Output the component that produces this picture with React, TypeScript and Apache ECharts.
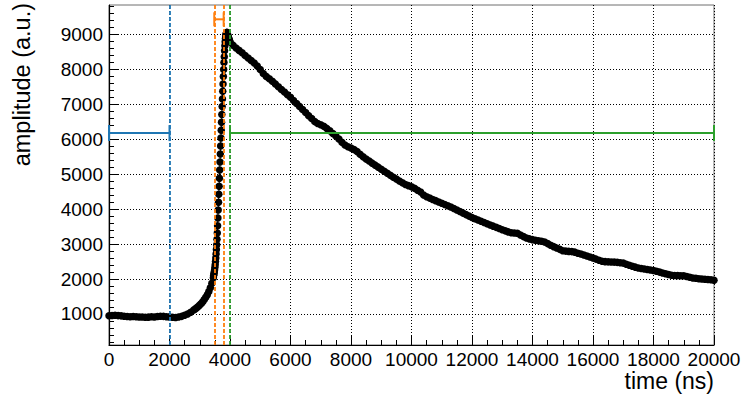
import { useEffect, useRef } from "react";
import * as echarts from "echarts";

// Digitised waveform, stored as uniformly sampled segments (start time, step in ns, amplitudes)
const baselineStart = 0;
const baselineStep = 100;
const baselineValues = [
  950, 955, 960, 952, 945, 935, 926, 920, 924, 918,
  910, 914, 905, 908, 918, 914, 924, 934, 930, 920,
  915, 906, 900, 910, 930, 962, 1000, 1050, 1110,
];

const footStart = 2850;
const footStep = 50;
const footValues = [1140, 1175, 1215, 1255, 1300, 1350, 1410, 1475, 1550, 1640, 1750, 1880, 2040];

const edgeStart = 3460;
const edgeStep = 10;
const edgeValues = [
  2110, 2150, 2200, 2255, 2330, 2410, 2500, 2605, 2720, 2845,
  2980, 3140, 3320, 3525, 3750, 3975, 4200, 4430, 4660, 4890,
  5120, 5350, 5580, 5810, 6040, 6265, 6490, 6715, 6940, 7160,
  7380, 7590, 7800, 8000, 8200, 8370, 8540, 8680, 8800, 8890,
  8960, 9010, 9040, 9060, 9065, 9030, 9000, 8970, 8940, 8910,
  8885, 8860, 8835, 8810,
];

const tailStart = 4000;
const tailStep = 100;
const tailValues = [
  8790, 8700, 8620, 8550, 8480, 8405, 8330, 8260, 8190, 8100,
  8000, 7890, 7805, 7735, 7665, 7590, 7510, 7430, 7355, 7280,
  7205, 7115, 7030, 6945, 6855, 6770, 6680, 6600, 6510, 6455,
  6420, 6375, 6315, 6245, 6170, 6095, 6010, 5920, 5840, 5790,
  5750, 5710, 5650, 5575, 5500, 5435, 5380, 5320, 5262, 5205,
  5145, 5085, 5030, 4970, 4915, 4862, 4810, 4760, 4710, 4675,
  4640, 4600, 4545, 4490, 4405, 4355, 4318, 4280, 4245, 4205,
  4170, 4135, 4100, 4065, 4020, 3975, 3932, 3888, 3845, 3802,
  3762, 3725, 3690, 3655, 3620, 3585, 3550, 3515, 3480, 3445,
  3410, 3380, 3350, 3325, 3318, 3310, 3260, 3215, 3173, 3150,
  3128, 3108, 3095, 3082, 3060, 3015, 2970, 2928, 2890, 2850,
  2812, 2800, 2792, 2785, 2770, 2740, 2715, 2690, 2660, 2630,
  2602, 2570, 2540, 2510, 2498, 2492, 2488, 2485, 2478, 2468,
  2456, 2425, 2395, 2365, 2340, 2318, 2300, 2288, 2272, 2258,
  2245, 2222, 2198, 2175, 2152, 2130, 2110, 2102, 2098, 2095,
  2092, 2072, 2050, 2030, 2020, 2010, 2002, 1995, 1988, 1980,
  1965,
];

// Axis ranges and ticks
const xRange = [0, 20000];
const xMajorStep = 2000;
const yRange = [110, 9850];
const yMajorTicks = [1000, 2000, 3000, 4000, 5000, 6000, 7000, 8000, 9000];
const yMinorTicks = [
  200, 400, 600, 800, 1200, 1400, 1600, 1800, 2200, 2400, 2600, 2800,
  3200, 3400, 3600, 3800, 4200, 4400, 4600, 4800, 5200, 5400, 5600, 5800,
  6200, 6400, 6600, 6800, 7200, 7400, 7600, 7800, 8200, 8400, 8600, 8800,
  9200, 9400, 9600, 9800,
];

// Analysis windows (ns) and the amplitude level at which each is marked
const baselineWindow = [0, 2000];
const riseWindow = [3480, 3790];
const tailWindow = [4000, 20000];
const windowLevel = 6180;
const riseLevel = 9440;

const FONT = "'Liberation Sans', Arial, Helvetica, sans-serif";
const BLUE = "#1f77b4";
const ORANGE = "#ff7f0e";
const GREEN = "#2ca02c";

function samples(start: number, step: number, values: number[]) {
  return values.map((v, i) => [start + i * step, v]);
}

const waveform = [
  ...samples(baselineStart, baselineStep, baselineValues),
  ...samples(footStart, footStep, footValues),
  ...samples(edgeStart, edgeStep, edgeValues),
  ...samples(tailStart, tailStep, tailValues),
];

const plain = (v: number) => String(v);

function windowSeries(range: number[], level: number, color: string, edges: number[], capHeight: number) {
  return {
    type: "line",
    data: [
      [range[0], level],
      [range[1], level],
    ],
    symbol: "rect",
    symbolSize: [2, capHeight],
    showAllSymbol: true,
    clip: false,
    silent: true,
    z: 5,
    lineStyle: { color, width: 2 },
    itemStyle: { color },
    markLine: {
      silent: true,
      symbol: ["none", "none"],
      label: { show: false },
      lineStyle: { color, type: [4, 2], width: 1.8 },
      data: edges.map((x) => ({ xAxis: x })),
    },
  };
}

export default function App() {
  const ref = useRef<HTMLDivElement>(null);

  useEffect(() => {
    if (!ref.current) return;
    const chart = echarts.init(ref.current, undefined, { renderer: "svg" });
    const grid = { left: 109, right: 28, top: 5, bottom: 56 };
    chart.setOption({
      animation: false,
      backgroundColor: "#ffffff",
      grid: {
        ...grid,
        show: true,
        borderColor: "#6e6e6e",
        borderWidth: 1,
        backgroundColor: "transparent",
        outerBoundsMode: "none",
      },
      xAxis: {
        type: "value",
        min: xRange[0],
        max: xRange[1],
        interval: xMajorStep,
        axisLine: { show: true, onZero: false, lineStyle: { color: "#000", width: 1.2 } },
        axisTick: { show: true, inside: true, length: 9, lineStyle: { color: "#000" } },
        minorTick: { show: true, splitNumber: 4, length: 5, lineStyle: { color: "#000" } },
        axisLabel: { fontSize: 19, fontFamily: FONT, color: "#000", margin: 5, formatter: plain },
        splitLine: { show: true, lineStyle: { color: "#000", type: [1, 2], width: 1 } },
      },
      yAxis: [
        {
          type: "value",
          min: yRange[0],
          max: yRange[1],
          axisLine: { show: true, onZero: false, lineStyle: { color: "#000", width: 1.2 } },
          axisTick: {
            show: true,
            inside: true,
            length: 9,
            customValues: yMajorTicks,
            lineStyle: { color: "#000" },
          },
          axisLabel: {
            customValues: yMajorTicks,
            fontSize: 19,
            fontFamily: FONT,
            color: "#000",
            margin: 6,
            formatter: plain,
          },
          splitLine: { show: true, lineStyle: { color: "#000", type: [1, 2], width: 1 } },
        },
        {
          type: "value",
          min: yRange[0],
          max: yRange[1],
          position: "left",
          axisLine: { show: false, onZero: false },
          axisTick: {
            show: true,
            inside: true,
            length: 5,
            customValues: yMinorTicks,
            lineStyle: { color: "#000" },
          },
          axisLabel: { show: false },
          splitLine: { show: false },
        },
      ],
      series: [
        {
          type: "line",
          data: waveform,
          symbol: "circle",
          symbolSize: 7.5,
          showAllSymbol: true,
          silent: true,
          z: 3,
          lineStyle: { color: "#000", width: 1 },
          itemStyle: { color: "#000" },
        },
        windowSeries(baselineWindow, windowLevel, BLUE, [baselineWindow[1]], 16),
        windowSeries(riseWindow, riseLevel, ORANGE, riseWindow, 14),
        windowSeries(tailWindow, windowLevel, GREEN, [tailWindow[0]], 16),
      ],
      graphic: [
        {
          type: "text",
          x: 22,
          y: 3,
          rotation: Math.PI / 2,
          style: {
            text: "amplitude (a.u.)",
            fontSize: 23.5,
            fontFamily: FONT,
            fill: "#000",
            align: "right",
            verticalAlign: "middle",
          },
        },
        {
          type: "text",
          x: 714,
          y: 381,
          style: {
            text: "time (ns)",
            fontSize: 23,
            fontFamily: FONT,
            fill: "#000",
            align: "right",
            verticalAlign: "middle",
          },
        },
      ],
    });
    return () => chart.dispose();
  }, []);

  return (
    <div
      ref={ref}
      style={{ position: "fixed", left: 0, top: 0, width: 742, height: 401, background: "#fff" }}
    />
  );
}
